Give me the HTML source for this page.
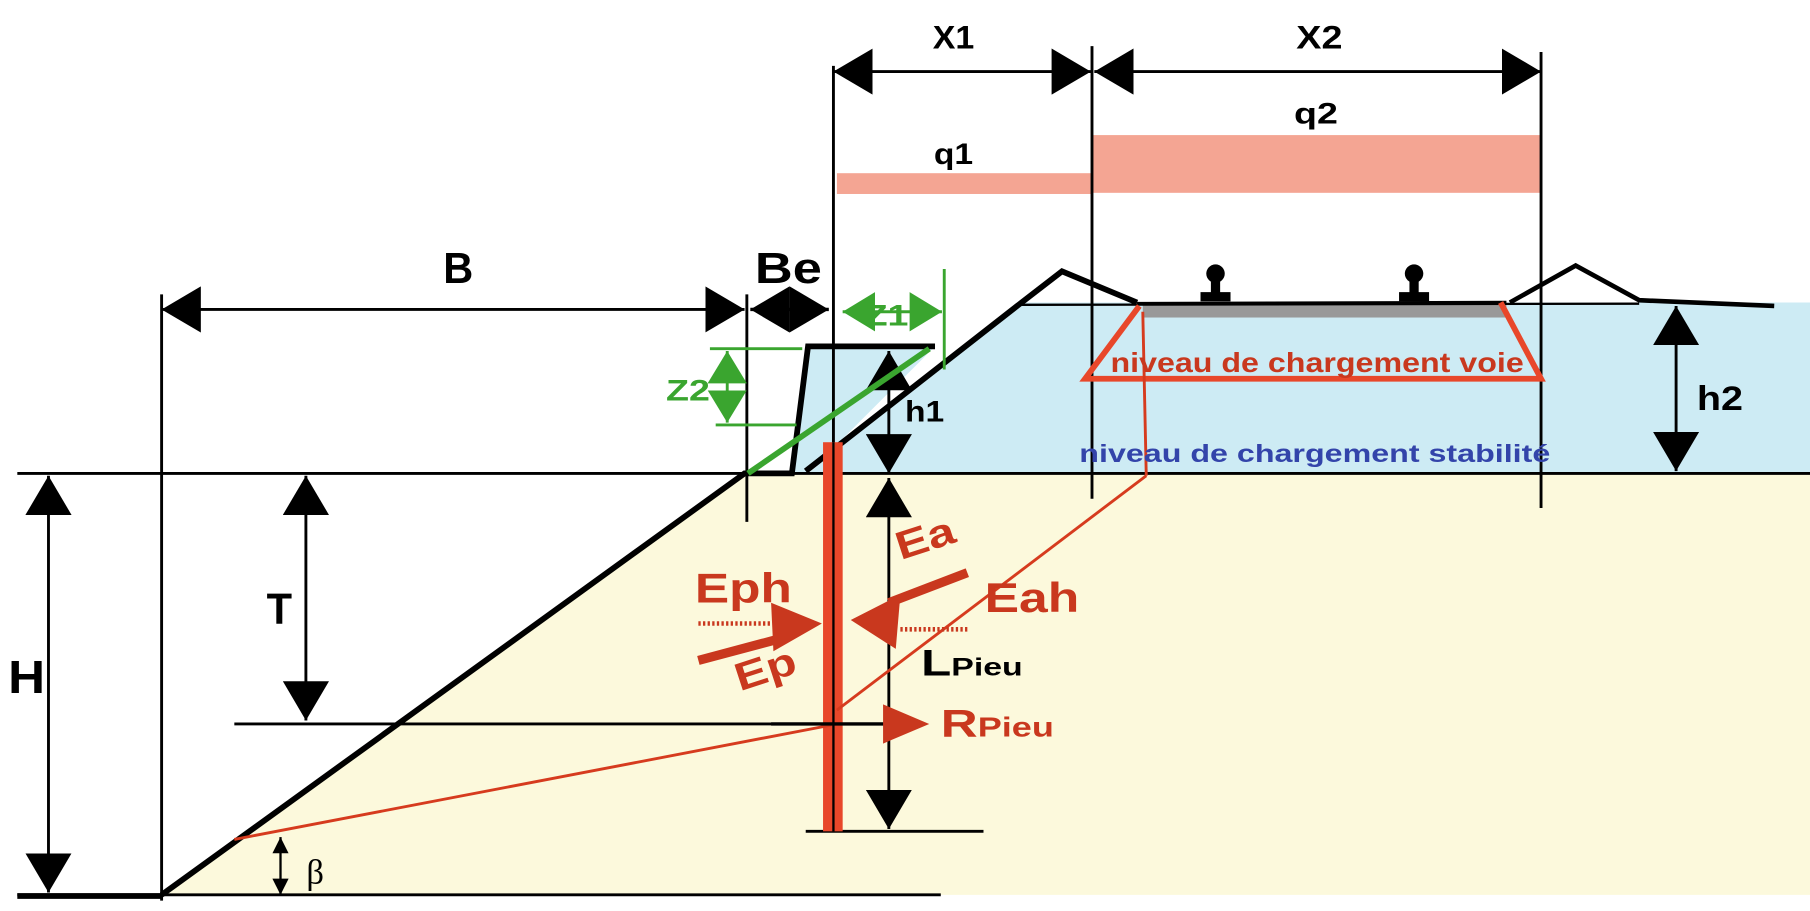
<!DOCTYPE html>
<html><head><meta charset="utf-8"><style>html,body{margin:0;padding:0;background:#fff}svg{display:block}</style></head><body>
<svg width="1810" height="911" viewBox="0 0 1568 789" preserveAspectRatio="none" xmlns="http://www.w3.org/2000/svg" font-family="Liberation Sans, sans-serif" font-weight="bold">
<defs>
<marker id="ah" viewBox="0 0 10 10" refX="10" refY="5" markerUnits="userSpaceOnUse" markerWidth="34" markerHeight="40" orient="auto-start-reverse" preserveAspectRatio="none"><path d="M0,0L10,5L0,10z" fill="#000"/></marker>
<marker id="as" viewBox="0 0 10 10" refX="10" refY="5" markerUnits="userSpaceOnUse" markerWidth="14" markerHeight="14" orient="auto-start-reverse" preserveAspectRatio="none"><path d="M0,0L10,5L0,10z" fill="#000"/></marker>
<marker id="ag" viewBox="0 0 10 10" refX="10" refY="5" markerUnits="userSpaceOnUse" markerWidth="28" markerHeight="34" orient="auto-start-reverse" preserveAspectRatio="none"><path d="M0,0L10,5L0,10z" fill="#3aa52f"/></marker>
</defs>
<!-- fills -->
<polygon points="645,410 1568,410 1568,775 140,775" fill="#fcf9dc"/>
<polygon points="700,410 885,262 1568,262 1568,410" fill="#cdebf4"/>
<polygon points="698,300 810,300 700,410 686,410" fill="#cdebf4"/>
<!-- load bars -->
<rect x="725" y="150" width="221" height="18" fill="#f4a593"/>
<rect x="946" y="117" width="389" height="50" fill="#f4a593"/>
<rect x="990" y="262" width="315" height="13" fill="#999"/>
<!-- thin lines -->
<g stroke="#000" stroke-width="2.5" fill="none">
<line x1="15" y1="410" x2="1568" y2="410"/>
<line x1="140" y1="255" x2="140" y2="780"/>
<line x1="647" y1="255" x2="647" y2="452"/>
<line x1="722" y1="57" x2="722" y2="400"/>
<line x1="946" y1="40" x2="946" y2="432"/>
<line x1="1335" y1="45" x2="1335" y2="440"/>
<line x1="15" y1="775" x2="815" y2="775"/>
<line x1="203" y1="627" x2="770" y2="627"/>
<line x1="698" y1="720" x2="852" y2="720"/>
<line x1="140" y1="268" x2="645" y2="268" marker-start="url(#ah)" marker-end="url(#ah)"/>
<line x1="650" y1="268" x2="718" y2="268" marker-start="url(#ah)" marker-end="url(#ah)" stroke-width="3"/>
<line x1="722" y1="62" x2="945" y2="62" marker-start="url(#ah)" marker-end="url(#ah)"/>
<line x1="948" y1="62" x2="1335" y2="62" marker-start="url(#ah)" marker-end="url(#ah)"/>
<line x1="770" y1="304" x2="770" y2="410" marker-start="url(#ah)" marker-end="url(#ah)"/>
<line x1="770" y1="414" x2="770" y2="718" marker-start="url(#ah)" marker-end="url(#ah)"/>
<line x1="265" y1="412" x2="265" y2="624" marker-start="url(#ah)" marker-end="url(#ah)"/>
<line x1="42" y1="412" x2="42" y2="773" marker-start="url(#ah)" marker-end="url(#ah)"/>
<line x1="1452" y1="265" x2="1452" y2="408" marker-start="url(#ah)" marker-end="url(#ah)"/>
<line x1="243" y1="725" x2="243" y2="775" stroke-width="2" marker-start="url(#as)" marker-end="url(#as)"/>
<line x1="15" y1="776" x2="140" y2="776" stroke-width="5"/>
</g>
<!-- thick outlines -->
<g stroke="#000" stroke-width="5" fill="none" stroke-linejoin="miter">
<polyline points="140,775 645,410 686,410 700,300 810,300"/>
<polyline points="698,408 885,262 920,235 985,262"/>
<line x1="985" y1="263" x2="1305" y2="262" stroke-width="3"/>
<polyline points="1308,262 1365,230 1420,260 1537,265" stroke-width="4"/>
<line x1="885" y1="264" x2="1420" y2="263" stroke-width="2"/>
</g>
<!-- rails -->
<g fill="#000"><circle cx="1053" cy="237" r="8"/><rect x="1049" y="240" width="8" height="15"/><rect x="1040" y="253" width="26" height="8"/>
<circle cx="1225" cy="237" r="8"/><rect x="1221" y="240" width="8" height="15"/><rect x="1212" y="253" width="26" height="8"/></g>
<!-- green -->
<g stroke="#3aa52f" fill="none" stroke-width="2.5">
<line x1="818" y1="233" x2="818" y2="320"/>
<line x1="730" y1="270" x2="816" y2="270" marker-start="url(#ag)" marker-end="url(#ag)"/>
<line x1="615" y1="302" x2="695" y2="302"/>
<line x1="620" y1="368" x2="690" y2="368"/>
<line x1="630" y1="304" x2="630" y2="366" marker-start="url(#ag)" marker-end="url(#ag)"/>
<line x1="648" y1="410" x2="805" y2="302" stroke-width="5"/>
</g>
<!-- red -->
<rect x="713" y="383" width="17" height="337" fill="#e8472a"/>
<line x1="722" y1="383" x2="722" y2="720" stroke="#000" stroke-width="2"/>
<polyline points="987,265 940,328 1335,328 1300,262" fill="none" stroke="#e8472a" stroke-width="5"/>
<g stroke="#d63b1e" stroke-width="2.5" fill="none">
<line x1="203" y1="727" x2="720" y2="628"/>
<line x1="725" y1="615" x2="993" y2="412"/>
<line x1="993" y1="412" x2="990" y2="270"/>
</g>
<line x1="668" y1="627" x2="775" y2="627" stroke="#000" stroke-width="3"/>
<polygon points="765,610 805,627 765,644" fill="#c9381e"/>
<!-- Eph/Ep arrows -->
<line x1="605" y1="540" x2="668" y2="540" stroke="#c9381e" stroke-width="4" stroke-dasharray="2,2"/>
<line x1="605" y1="572" x2="680" y2="552" stroke="#c9381e" stroke-width="8"/>
<polygon points="668,522 712,540 670,564" fill="#c9381e"/>
<line x1="838" y1="496" x2="770" y2="522" stroke="#c9381e" stroke-width="8"/>
<line x1="780" y1="545" x2="840" y2="545" stroke="#c9381e" stroke-width="4" stroke-dasharray="2,2"/>
<polygon points="737,537 780,515 776,562" fill="#c9381e"/>
<!-- text -->
<g fill="#000" text-anchor="middle">
<text x="826" y="42" font-size="28" textLength="36" lengthAdjust="spacingAndGlyphs">X1</text>
<text x="1143" y="42" font-size="28" textLength="40" lengthAdjust="spacingAndGlyphs">X2</text>
<text x="826" y="142" font-size="26" textLength="34" lengthAdjust="spacingAndGlyphs">q1</text>
<text x="1140" y="107" font-size="26" textLength="38" lengthAdjust="spacingAndGlyphs">q2</text>
<text x="397" y="245" font-size="38" textLength="26" lengthAdjust="spacingAndGlyphs">B</text>
<text x="683" y="245" font-size="38" textLength="58" lengthAdjust="spacingAndGlyphs">Be</text>
<text x="801" y="365" font-size="26" textLength="34" lengthAdjust="spacingAndGlyphs">h1</text>
<text x="1490" y="355" font-size="30" textLength="40" lengthAdjust="spacingAndGlyphs">h2</text>
<text x="242" y="540" font-size="38" textLength="22" lengthAdjust="spacingAndGlyphs">T</text>
<text x="23" y="600" font-size="40" textLength="32" lengthAdjust="spacingAndGlyphs">H</text>
<text x="798" y="585" font-size="32" text-anchor="start" textLength="88" lengthAdjust="spacingAndGlyphs">L<tspan font-size="22">Pieu</tspan></text>
<text x="273" y="765" font-size="30" font-weight="normal" font-family="Liberation Serif, serif">β</text>
</g>
<g fill="#3aa52f" text-anchor="middle">
<text x="768" y="282" font-size="26" textLength="38" lengthAdjust="spacingAndGlyphs">Z1</text>
<text x="596" y="347" font-size="26" textLength="38" lengthAdjust="spacingAndGlyphs">Z2</text>
</g>
<g fill="#c9381e" text-anchor="start">
<text x="602" y="522" font-size="36" textLength="84" lengthAdjust="spacingAndGlyphs">Eph</text>
<text x="636" y="592" font-size="34" textLength="54" lengthAdjust="spacingAndGlyphs" transform="rotate(-18 660 580)">Ep</text>
<text x="775" y="478" font-size="34" textLength="52" lengthAdjust="spacingAndGlyphs" transform="rotate(-18 800 465)">Ea</text>
<text x="853" y="530" font-size="36" textLength="82" lengthAdjust="spacingAndGlyphs">Eah</text>
<text x="815" y="638" font-size="34" textLength="98" lengthAdjust="spacingAndGlyphs">R<tspan font-size="24">Pieu</tspan></text>
<text x="962" y="322" font-size="24" textLength="358" lengthAdjust="spacingAndGlyphs">niveau de chargement voie</text>
</g>
<text x="935" y="400" font-size="22" fill="#3344aa" textLength="408" lengthAdjust="spacingAndGlyphs">niveau de chargement stabilité</text>
</svg>
</body></html>
